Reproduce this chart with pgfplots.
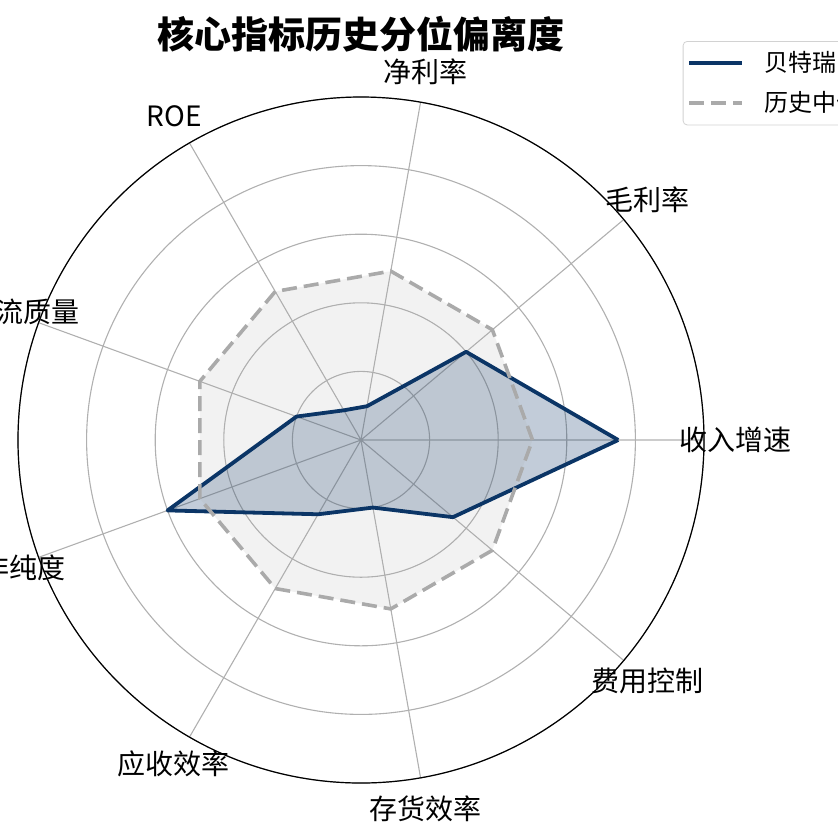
\documentclass[border=0pt]{standalone}
\usepackage{pgfplots}
\pgfplotsset{compat=1.18}
\usepgfplotslibrary{polar}
\usepackage{pgfplotstable}
\usepackage{fontspec}
\setmainfont{Noto Sans CJK SC}
\definecolor{btr}{HTML}{0B3566}
\definecolor{med}{HTML}{AAAAAA}
\definecolor{gridc}{HTML}{B0B0B0}

% angle, percentile (0-1)
\pgfplotstableread{
angle val
0   0.75
40  0.40
80  0.10
120 0.10
160 0.20
200 0.60
240 0.25
280 0.20
320 0.35
360 0.75
}\tblbtr
\pgfplotstableread{
angle val
0   0.50
40  0.50
80  0.50
120 0.50
160 0.50
200 0.50
240 0.50
280 0.50
320 0.50
360 0.50
}\tblmed

\begin{document}
\begin{tikzpicture}
\path[use as bounding box] (0pt,0pt) rectangle (419pt,418.5pt);
\clip (0pt,0pt) rectangle (419pt,418.5pt);
\begin{polaraxis}[
    at={(180.5pt,198.5pt)}, anchor=center,
    scale only axis, width=343pt, height=343pt,
    xmin=0, xmax=360, ymin=0, ymax=1,
    xtick={0,40,...,320},
    xticklabels={收入增速,毛利率,净利率,ROE,现金流质量,扣非纯度,应收效率,存货效率,费用控制},
    xticklabel style={font=\fontsize{14}{16}\selectfont, anchor=center, shift={(\tick:15.5pt)}},
    ytick={0.2,0.4,0.6,0.8,1.0},
    yticklabels={},
    grid=major,
    major grid style={gridc, line width=0.55pt},
    major tick length=0pt,
    x axis line style={black, line width=0.6pt},
    y axis line style={draw=none},
    title={核心指标历史分位偏离度},
    title style={at={(axis description cs:0.5,1.0496)}, anchor=center, font=\fontsize{18.5}{20}\selectfont\bfseries},
    legend style={at={(axis description cs:0.969,1.0816)}, anchor=north west,
        draw=gray!35, rounded corners=2pt, font=\fontsize{12}{14}\selectfont,
        row sep=4.5pt, inner xsep=2pt, inner ysep=3pt,
        /tikz/every odd column/.append style={column sep=8.5pt}},
    legend cell align=left,
    legend image code/.code={\draw[#1] (0pt,0pt) -- (26.5pt,0pt);},
]
\addplot[forget plot, draw=none, fill=btr, fill opacity=0.25] table[x=angle, y=val] {\tblbtr};
\addplot[forget plot, draw=none, fill=med, fill opacity=0.15] table[x=angle, y=val] {\tblmed};
\addplot[btr, line width=1.9pt, line join=round] table[x=angle, y=val] {\tblbtr};
\addlegendentry{贝特瑞}
\addplot[med, line width=1.8pt, dash pattern=on 7.5pt off 3.5pt] table[x=angle, y=val] {\tblmed};
\addlegendentry{历史中位数}
\end{polaraxis}
\end{tikzpicture}
\end{document}
